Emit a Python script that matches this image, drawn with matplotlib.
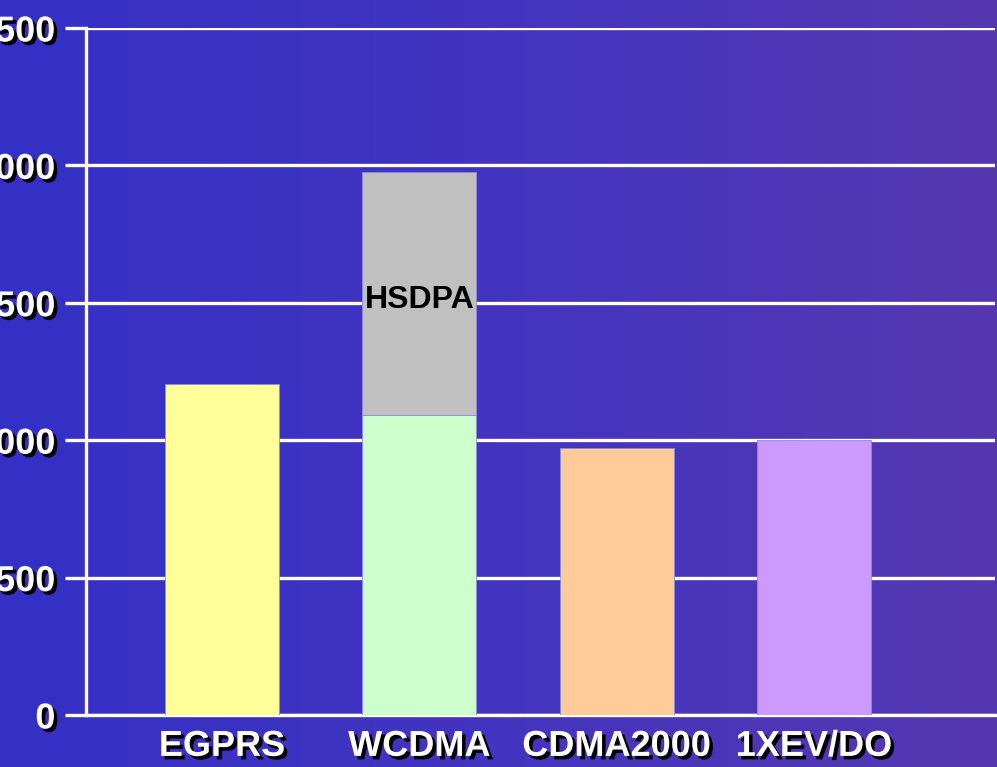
import numpy as np
import matplotlib
matplotlib.use("Agg")
import matplotlib.pyplot as plt
import matplotlib.patheffects as pe
from matplotlib.colors import LinearSegmentedColormap

categories = ["EGPRS", "WCDMA", "CDMA2000", "1XEV/DO"]
base_values = [1205, 1092, 972, 1001]
hsdpa_values = [0, 884, 0, 0]
hsdpa_label = "HSDPA"
yticks = [0, 500, 1000, 1500, 2000, 2500]
base_colors = ["#FFFF99", "#CCFFCC", "#FFCC99", "#CC99FF"]
hsdpa_color = "#C0C0C0"

plt.rcParams['font.family'] = ['Liberation Sans', 'DejaVu Sans']

W, H = 997, 767
fig = plt.figure(figsize=(W / 100, H / 100), dpi=100)

# gradient background
bg = fig.add_axes([0, 0, 1, 1], zorder=-10)
cmap = LinearSegmentedColormap.from_list("bg", ["#3430C6", "#4334C0", "#5538B0"])
grad = np.linspace(0, 1, 256).reshape(1, -1)
bg.imshow(grad, aspect="auto", cmap=cmap, extent=[0, 1, 0, 1])
bg.set_axis_off()

ax_left, ax_right = 86 / W, 995 / W
ax_bottom, ax_top = 1 - 715 / H, 1 - 28 / H
ax = fig.add_axes([ax_left, ax_bottom, ax_right - ax_left, ax_top - ax_bottom])
ax.set_facecolor("none")

x = np.arange(len(categories))
width = 0.578
ax.bar(x, base_values, width=width, color=base_colors, edgecolor="#8C8CE0",
       linewidth=0.6, zorder=3)
ax.bar(x, hsdpa_values, width=width, bottom=base_values, color=hsdpa_color,
       edgecolor=[("#8C8CE0" if v > 0 else "none") for v in hsdpa_values],
       linewidth=0.6, zorder=3)

idx = hsdpa_values.index(max(hsdpa_values))
ax.text(x[idx], base_values[idx] + hsdpa_values[idx] * 0.473, hsdpa_label,
        ha="center", va="center", fontsize=23, fontweight="bold", color="black",
        zorder=4)

ax.set_xlim(-0.689, 3.918)
ax.set_ylim(0, 2500)
ax.set_yticks(yticks)
ax.set_yticklabels([str(t) for t in yticks])
ax.set_xticks(x)
ax.set_xticklabels(categories)

for s in ["top", "right"]:
    ax.spines[s].set_visible(False)
for s in ["left", "bottom"]:
    ax.spines[s].set_color("white")
    ax.spines[s].set_linewidth(2.4)
    ax.spines[s].set_zorder(2)

ax.grid(axis="y", color="white", linewidth=2.4, zorder=1)
ax.set_axisbelow(True)

shadow = [pe.SimplePatchShadow(offset=(2.5, -2.5), shadow_rgbFace="black", alpha=1.0),
          pe.Normal()]
ax.tick_params(axis="y", length=15, width=2.4, color="white", pad=7,
               labelsize=26, labelcolor="white", direction="out")
ax.tick_params(axis="x", length=0, pad=10, labelsize=26, labelcolor="white")
for lab in ax.get_yticklabels() + ax.get_xticklabels():
    lab.set_fontweight("bold")
    lab.set_path_effects(shadow)

fig.savefig("out.png", dpi=100)
